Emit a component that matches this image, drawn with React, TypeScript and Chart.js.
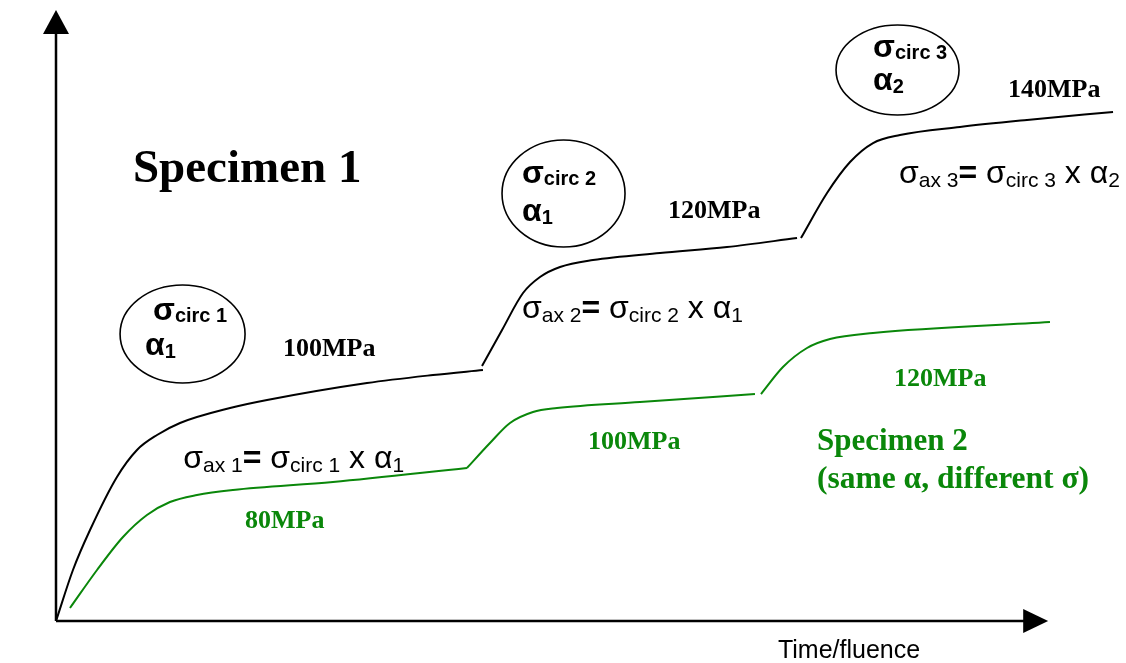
import React, { useEffect, useRef } from "react";
import { Chart, registerables } from "chart.js";

Chart.register(...registerables);

type Pt = [number, number];

// Specimen 1 (black): three loading stages, [time, stress-response]
const spec1Stage1: Pt[] = [
  [0, 0], [1.6, 8.35], [3.21, 14.89], [5.75, 23.57], [7.64, 27.99], [9.53, 30.44],
  [11.7, 32.41], [16.42, 34.86], [19.91, 36.17], [29.34, 38.95], [35.57, 40.26], [40.28, 41.08],
];
const spec1Stage2: Pt[] = [
  [40.19, 41.73], [42.08, 47.63], [44.06, 53.68], [45.66, 56.3], [47.55, 57.94],
  [50.66, 59.08], [56.98, 60.23], [63.3, 61.21], [69.91, 62.68],
];
const spec1Stage3: Pt[] = [
  [70.28, 62.68], [72.74, 70.05], [74.91, 75.12], [77.08, 78.23], [79.62, 79.54],
  [85.28, 80.85], [91.6, 82.0], [99.72, 83.31],
];

// Specimen 2 (green)
const spec2Stage1: Pt[] = [
  [1.32, 2.13], [3.87, 8.35], [6.32, 13.75], [8.58, 17.35], [10.75, 19.48],
  [13.3, 20.62], [16.7, 21.44], [26.13, 22.75], [38.77, 25.04],
];
const spec2Stage2: Pt[] = [
  [38.77, 25.04], [40.94, 29.13], [42.83, 32.41], [45.0, 34.21], [47.26, 34.86],
  [55.09, 35.84], [65.94, 37.15],
];
const spec2Stage3: Pt[] = [
  [66.51, 37.15], [68.58, 41.57], [70.85, 44.68], [73.02, 46.15], [77.08, 47.14], [93.77, 48.94],
];

const spec1StressLabels = ["100MPa", "120MPa", "140MPa"];
const spec2StressLabels = ["80MPa", "100MPa", "120MPa"];
const circleSigma = ["circ 1", "circ 2", "circ 3"];
const circleAlpha = ["1", "1", "2"];

const SERIF = '"Liberation Serif", "Times New Roman", serif';
const SANS = '"Liberation Sans", Arial, sans-serif';
const BLACK = "#000000";
const GREEN = "#0a870a";

const X_AXIS_END = 93.6;

type Part = [string, "m" | "s" | "b"];

function formula(n: string, a: string): Part[] {
  return [
    ["σ", "m"], ["ax " + n, "s"], ["=", "b"], [" σ", "m"], ["circ " + n, "s"],
    [" x ", "m"], ["α", "m"], [a, "s"],
  ];
}

function drawRich(
  ctx: CanvasRenderingContext2D, x: number, y: number, parts: Part[],
  main: number, sub: number, bold: boolean, dy: number
) {
  let cx = x;
  for (const [t, k] of parts) {
    const isSub = k === "s";
    const b = bold || k === "b";
    ctx.font = `${b ? "bold " : ""}${isSub ? sub : main}px ${SANS}`;
    ctx.fillText(t, cx, y + (isSub ? dy : 0));
    cx += ctx.measureText(t).width;
  }
}

const annotationPlugin = {
  id: "schematic",
  beforeDatasetsDraw(chart: any) {
    const { ctx, chartArea, scales } = chart;
    const x0 = chartArea.left;
    const y0 = chartArea.bottom;
    const yTop = chartArea.top;
    const xEnd = scales.x.getPixelForValue(X_AXIS_END);
    ctx.save();
    ctx.strokeStyle = BLACK;
    ctx.fillStyle = BLACK;
    ctx.lineWidth = 2.5;
    ctx.beginPath();
    ctx.moveTo(x0, y0);
    ctx.lineTo(x0, yTop + 20);
    ctx.moveTo(x0, y0);
    ctx.lineTo(xEnd - 22, y0);
    ctx.stroke();
    ctx.beginPath();
    ctx.moveTo(x0, yTop);
    ctx.lineTo(x0 - 13, yTop + 24);
    ctx.lineTo(x0 + 13, yTop + 24);
    ctx.closePath();
    ctx.fill();
    ctx.beginPath();
    ctx.moveTo(xEnd, y0);
    ctx.lineTo(xEnd - 25, y0 - 12);
    ctx.lineTo(xEnd - 25, y0 + 12);
    ctx.closePath();
    ctx.fill();
    ctx.restore();
  },
  afterDatasetsDraw(chart: any) {
    const { ctx, scales } = chart;
    const px = (v: number) => scales.x.getPixelForValue(v);
    const py = (v: number) => scales.y.getPixelForValue(v);
    ctx.save();
    ctx.textAlign = "left";
    ctx.textBaseline = "alphabetic";

    ctx.fillStyle = BLACK;
    ctx.font = `bold 47px ${SERIF}`;
    ctx.fillText("Specimen 1", px(7.26), py(71.85));

    ctx.font = `bold 26px ${SERIF}`;
    const s1Pos: Pt[] = [[21.42, 43.37], [57.74, 65.96], [89.81, 85.76]];
    spec1StressLabels.forEach((t, i) => ctx.fillText(t, px(s1Pos[i][0]), py(s1Pos[i][1])));

    ctx.fillStyle = GREEN;
    const s2Pos: Pt[] = [[17.83, 15.22], [50.19, 28.15], [79.06, 38.46]];
    spec2StressLabels.forEach((t, i) => ctx.fillText(t, px(s2Pos[i][0]), py(s2Pos[i][1])));
    ctx.font = `bold 31px ${SERIF}`;
    ctx.fillText("Specimen 2", px(71.79), py(27.99));
    ctx.font = `bold 31.5px ${SERIF}`;
    ctx.fillText("(same α, different σ)", px(71.79), py(21.77));

    ctx.fillStyle = BLACK;
    const fPos: Pt[] = [[12.0, 25.04], [43.96, 49.59], [79.53, 71.69]];
    fPos.forEach((p, i) => {
      drawRich(ctx, px(p[0]), py(p[1]), formula(String(i + 1), circleAlpha[i]), 32, 21, false, 4);
    });

    const cPos: Pt[] = [[11.94, 46.97], [47.88, 69.97], [79.39, 90.18]];
    const cR: Pt[] = [[62.5, 49], [61.5, 53.5], [61.5, 45]];
    const sigPos: Pt[] = [[9.15, 49.26], [43.96, 71.69], [77.08, 92.31]];
    const alpPos: Pt[] = [[8.4, 43.54], [43.96, 65.47], [77.08, 86.91]];
    ctx.strokeStyle = BLACK;
    ctx.lineWidth = 1.6;
    cPos.forEach((c, i) => {
      ctx.beginPath();
      ctx.ellipse(px(c[0]), py(c[1]), cR[i][0], cR[i][1], 0, 0, Math.PI * 2);
      ctx.stroke();
      drawRich(ctx, px(sigPos[i][0]), py(sigPos[i][1]), [["σ", "m"], [circleSigma[i], "s"]], 32, 20, true, 2);
      drawRich(ctx, px(alpPos[i][0]), py(alpPos[i][1]), [["α", "m"], [circleAlpha[i], "s"]], 32, 20, true, 3);
    });

    ctx.font = `25px ${SANS}`;
    ctx.fillText("Time/fluence", px(68.11), py(-6.06));
    ctx.restore();
  },
};

function seg(label: string, pts: Pt[], color: string) {
  return {
    label,
    data: pts.map(([x, y]) => ({ x, y })),
    borderColor: color,
    borderWidth: 2,
    pointRadius: 0,
    fill: false,
    cubicInterpolationMode: "monotone" as const,
  };
}

export default function App() {
  const ref = useRef<HTMLCanvasElement | null>(null);
  useEffect(() => {
    if (!ref.current) return;
    const chart = new Chart(ref.current, {
      type: "line",
      data: {
        datasets: [
          seg("Specimen 1 stage 1", spec1Stage1, BLACK),
          seg("Specimen 1 stage 2", spec1Stage2, BLACK),
          seg("Specimen 1 stage 3", spec1Stage3, BLACK),
          seg("Specimen 2 stage 1", spec2Stage1, GREEN),
          seg("Specimen 2 stage 2", spec2Stage2, GREEN),
          seg("Specimen 2 stage 3", spec2Stage3, GREEN),
        ],
      },
      options: {
        responsive: false,
        animation: false,
        layout: { padding: { left: 56, right: 10, top: 10, bottom: 42 } },
        plugins: { legend: { display: false }, tooltip: { enabled: false } },
        scales: {
          x: { type: "linear", min: 0, max: 100, display: false },
          y: { type: "linear", min: 0, max: 100, display: false },
        },
      },
      plugins: [annotationPlugin],
    });
    return () => chart.destroy();
  }, []);
  return (
    <div style={{ position: "fixed", left: 0, top: 0, width: 1126, height: 663, background: "#fff" }}>
      <canvas ref={ref} width={1126} height={663} style={{ display: "block" }} />
    </div>
  );
}
